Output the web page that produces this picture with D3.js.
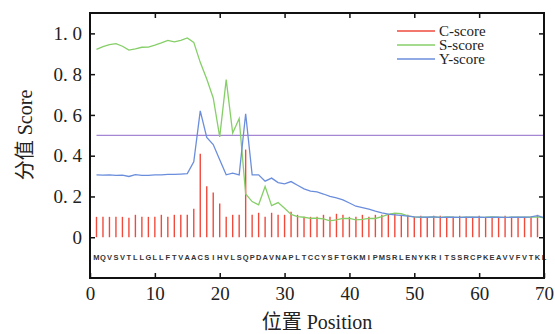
<!DOCTYPE html>
<html>
<head>
<meta charset="utf-8">
<script src="https://cdn.jsdelivr.net/npm/d3@7"></script>
<style>
  body { margin: 0; background: #fff; }
  svg { display: block; }
  .tick text { font-family: "Liberation Serif", "DejaVu Serif", serif; }
</style>
</head>
<body>
<div class="chart"></div>
<script>
// residues of the sequence, one per position
const sequence = "MQVSVTLLGLLFTVAACSIHVLSQPDAVNAPLTCCYSFTGKMIPMSRLENYKRITSSRCPKEAVVFVTKL".split("");

const cScore = [0.10,0.10,0.10,0.10,0.10,0.095,0.11,0.10,0.10,0.10,0.11,0.10,0.11,0.11,0.11,
  0.14,0.41,0.25,0.22,0.165,0.10,0.11,0.11,0.43,0.11,0.12,0.10,0.12,0.11,0.11,
  0.125,0.11,0.10,0.10,0.10,0.11,0.10,0.115,0.11,0.10,0.10,0.11,0.10,0.11,0.11,
  0.11,0.115,0.11,0.11,0.10,0.105,0.095,0.105,0.105,0.095,0.10,0.105,0.10,0.10,0.105,
  0.10,0.10,0.10,0.105,0.10,0.10,0.10,0.10,0.11,0.10];

const sScore = [0.922,0.935,0.945,0.95,0.937,0.918,0.924,0.932,0.933,0.942,0.953,0.966,0.958,0.966,0.978,
  0.956,0.858,0.776,0.683,0.492,0.773,0.511,0.582,0.212,0.175,0.159,0.249,0.155,0.17,0.142,
  0.112,0.101,0.098,0.093,0.093,0.09,0.08,0.085,0.092,0.092,0.085,0.088,0.092,0.092,0.101,
  0.112,0.118,0.116,0.105,0.10,0.098,0.099,0.10,0.097,0.10,0.098,0.097,0.099,0.098,0.097,
  0.098,0.10,0.098,0.097,0.098,0.099,0.098,0.099,0.10,0.095];

const yScore = [0.306,0.305,0.306,0.303,0.305,0.298,0.307,0.303,0.303,0.306,0.306,0.308,0.308,0.31,0.312,
  0.37,0.62,0.49,0.455,0.38,0.306,0.314,0.306,0.606,0.306,0.306,0.275,0.29,0.268,0.262,
  0.273,0.255,0.237,0.226,0.222,0.212,0.20,0.193,0.183,0.168,0.152,0.145,0.138,0.128,0.12,
  0.113,0.11,0.107,0.104,0.10,0.099,0.098,0.10,0.097,0.099,0.098,0.097,0.099,0.098,0.098,
  0.097,0.099,0.098,0.097,0.098,0.099,0.098,0.10,0.106,0.096];

const threshold = 0.5;
const xTicks = [0, 10, 20, 30, 40, 50, 60, 70];
const yTicks = [0, 0.2, 0.4, 0.6, 0.8, 1.0];
const legendNames = ["C-score", "S-score", "Y-score"];

const colors = { c: "#f04a3c", s: "#86cf68", y: "#6b8edc", t: "#a586d4" };

const width = 555, height = 334;
const margin = { left: 90, right: 11, top: 13, bottom: 56 };

const svg = d3.select(".chart").append("svg")
  .attr("width", width)
  .attr("height", height);

const x = d3.scaleLinear().domain([0, 70]).range([margin.left, width - margin.right]);
const y = d3.scaleLinear().domain([-0.2, 1.1]).range([height - margin.bottom, margin.top]);

const positions = sequence.map((_, i) => i + 1);
const serif = "'Liberation Serif', 'DejaVu Serif', serif";

// C-score sticks
svg.append("g")
  .selectAll("line")
  .data(cScore)
  .join("line")
  .attr("x1", (d, i) => x(i + 1))
  .attr("x2", (d, i) => x(i + 1))
  .attr("y1", y(0))
  .attr("y2", d => y(d))
  .attr("stroke", colors.c)
  .attr("stroke-width", 1.4);

// threshold
svg.append("line")
  .attr("x1", x(1)).attr("x2", x(70))
  .attr("y1", y(threshold)).attr("y2", y(threshold))
  .attr("stroke", colors.t)
  .attr("stroke-width", 1.2);

let line = d3.line()
  .x((d, i) => x(i + 1))
  .y(d => y(d));

svg.append("path")
  .attr("d", line(sScore))
  .attr("fill", "none")
  .attr("stroke", colors.s)
  .attr("stroke-width", 1.3);

svg.append("path")
  .attr("d", line(yScore))
  .attr("fill", "none")
  .attr("stroke", colors.y)
  .attr("stroke-width", 1.3);

// sequence letters
svg.append("g")
  .selectAll("text")
  .data(sequence)
  .join("text")
  .attr("x", (d, i) => x(positions[i]))
  .attr("y", y(-0.11))
  .attr("text-anchor", "middle")
  .attr("font-family", "'Liberation Sans', Arial, sans-serif")
  .attr("font-weight", "bold")
  .attr("font-size", 7.5)
  .attr("fill", "#333")
  .text(d => d);

// axes
let fmt = d => d === 0 ? "0" : d3.format(".1f")(d).replace(".", ". ");

let yAxis = g => g
  .attr("transform", `translate(${margin.left},0)`)
  .call(d3.axisLeft(y).tickValues(yTicks).tickSize(-5).tickPadding(8).tickFormat(fmt))
  .call(g => g.select(".domain").remove());

let xAxis = g => g
  .attr("transform", `translate(0,${height - margin.bottom})`)
  .call(d3.axisBottom(x).tickValues(xTicks).tickSize(-5).tickPadding(9))
  .call(g => g.select(".domain").remove());

svg.append("g").call(yAxis).attr("font-family", serif).attr("font-size", 19);
svg.append("g").call(xAxis).attr("font-family", serif).attr("font-size", 19);

svg.append("g")
  .attr("transform", `translate(0,${margin.top})`)
  .call(d3.axisTop(x).tickValues(xTicks.slice(1, -1)).tickSize(-5).tickFormat(""))
  .call(g => g.select(".domain").remove());

svg.append("g")
  .attr("transform", `translate(${width - margin.right},0)`)
  .call(d3.axisRight(y).tickValues(yTicks).tickSize(-5).tickFormat(""))
  .call(g => g.select(".domain").remove());

svg.selectAll(".tick line").attr("stroke", "#111").attr("stroke-width", 1.5);
svg.selectAll(".tick text").attr("fill", "#222");

// frame
svg.append("rect")
  .attr("x", margin.left).attr("y", margin.top)
  .attr("width", width - margin.left - margin.right)
  .attr("height", height - margin.top - margin.bottom)
  .attr("fill", "none")
  .attr("stroke", "#111")
  .attr("stroke-width", 2);

// legend
let legend = svg.append("g")
  .selectAll("g")
  .data(legendNames)
  .join("g")
  .attr("transform", (d, i) => `translate(397,${31 + i * 14})`);
legend.append("line")
  .attr("x1", 0).attr("x2", 38)
  .attr("stroke", (d, i) => [colors.c, colors.s, colors.y][i])
  .attr("stroke-width", 1.3);
legend.append("text")
  .attr("x", 42)
  .attr("dy", "0.33em")
  .attr("font-family", serif)
  .attr("font-size", 15)
  .attr("fill", "#222")
  .text(d => d);

// axis titles
svg.append("text")
  .attr("x", (margin.left + width - margin.right) / 2)
  .attr("y", 329)
  .attr("text-anchor", "middle")
  .attr("font-size", 20)
  .attr("fill", "#222")
  .html(`<tspan font-family="'Noto Sans CJK SC'">位置</tspan><tspan font-family="${serif}"> Position</tspan>`);

svg.append("text")
  .attr("transform", `translate(32,${135}) rotate(-90)`)
  .attr("text-anchor", "middle")
  .attr("font-size", 20)
  .attr("fill", "#222")
  .html(`<tspan font-family="'Noto Sans CJK SC'">分值</tspan><tspan font-family="${serif}"> Score</tspan>`);
</script>
</body>
</html>
